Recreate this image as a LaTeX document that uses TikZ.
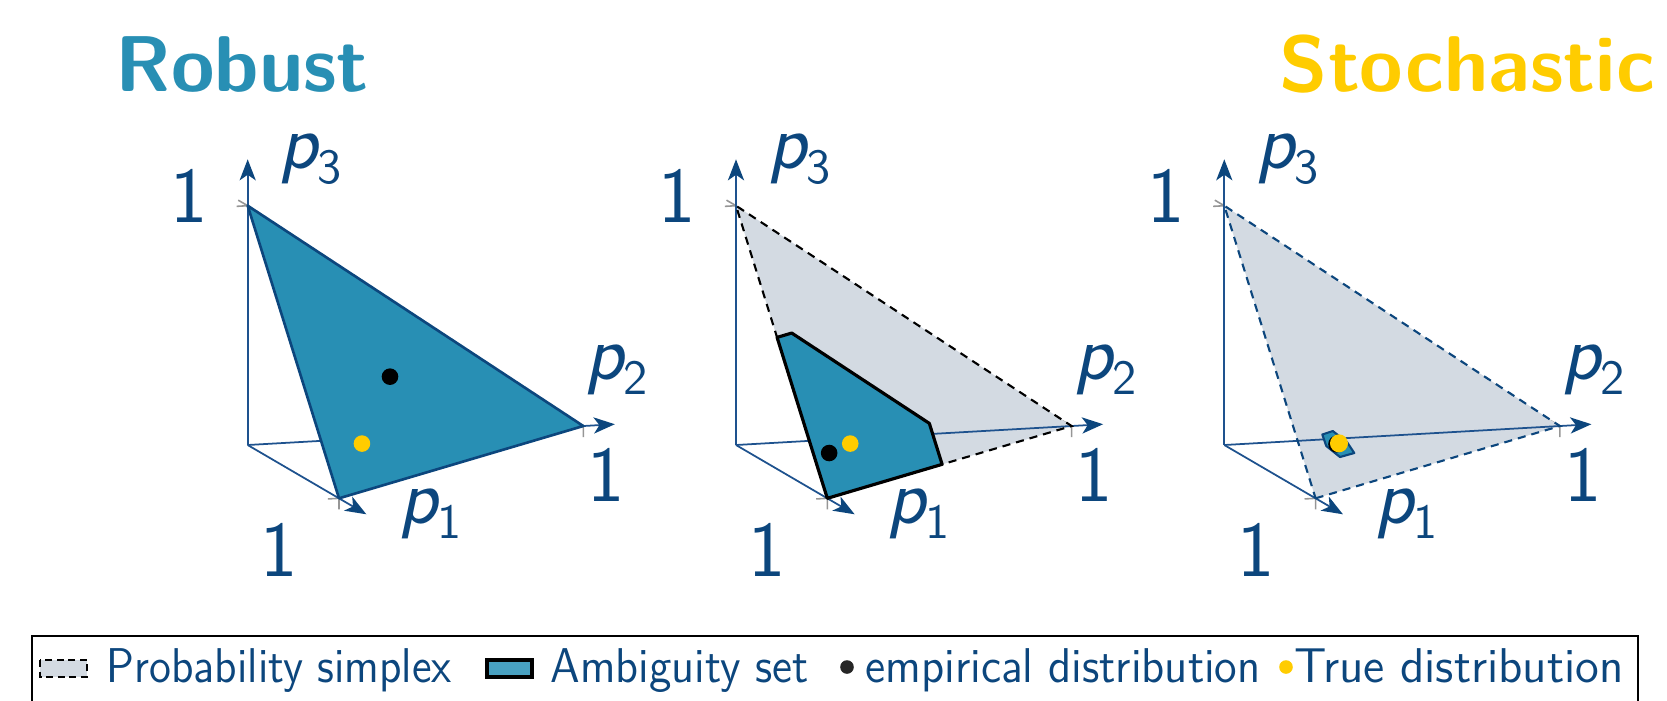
\documentclass[tikz,border=0pt]{standalone}
\usepackage{fontspec}
\usepackage{graphicx}
\usetikzlibrary{arrows.meta}
\newfontface\pobl{lmsans17-oblique.otf}
\definecolor{tblue}{RGB}{12,70,125}
\definecolor{axblue}{RGB}{30,82,142}
\definecolor{teal1}{RGB}{40,143,180}
\definecolor{legteal}{RGB}{72,160,192}
\definecolor{gold}{RGB}{255,204,0}
\definecolor{simgrey}{RGB}{211,218,226}
\definecolor{tickgrey}{RGB}{150,150,150}
\pgfdeclarelayer{ticks}
\pgfdeclarelayer{greyl}
\pgfdeclarelayer{axesl}
\pgfsetlayers{ticks,greyl,axesl,main}
\newcommand\plab[1]{{\pobl p}\raisebox{-4.3pt}{\fontsize{14pt}{15pt}\selectfont #1}}
\newcommand\legtxt[2]{\resizebox{#1}{\height}{#2}}
\tikzset{
  proj/.style={x={(0.913cm,-0.533cm)},y={(3.356cm,0.19cm)},z={(0cm,2.393cm)}},
  axisarrow/.style={draw=axblue, line width=0.5pt, -{Stealth[length=6pt,width=4.6pt,inset=1.6pt,color=tblue]}},
  tickline/.style={draw=tickgrey, line width=0.45pt},
  lab/.style={text=tblue, font=\sffamily\fontsize{22.5pt}{24pt}\selectfont, inner sep=0pt},
  tealtri/.style={fill=teal1, draw=tblue, line width=0.75pt, line join=round},
  ambig/.style={fill=teal1, draw=black, line width=0.9pt, line join=round},
  smallamb/.style={fill=teal1, draw=tblue, line width=0.6pt, line join=round},
  simplexedge/.style={dash pattern=on 2.3pt off 1.7pt, line width=0.6pt},
  title/.style={font=\sffamily\bfseries\fontsize{22.5pt}{24pt}\selectfont, inner sep=0pt},
  legtext/.style={text=tblue, font=\sffamily\fontsize{13.9pt}{15pt}\selectfont, inner sep=0pt, anchor=base west},
}
\begin{document}
\begin{tikzpicture}
\useasboundingbox (0,0) rectangle (16.67,-7);
% titles
\node[title, text=teal1, anchor=base west] (trob) at (1.15,-0.914) {Robust};
\node[title, text=gold, anchor=base west] (tsto) at (12.79,-0.914) {Stochastic};
% common axes
\foreach \n/\ox in {1/2.477,2/7.360,3/12.243}{
\begin{scope}[shift={(\ox,-4.45)},proj]
  \coordinate (O\n) at (0,0,0);
  \coordinate (A\n) at (1,0,0);
  \coordinate (B\n) at (0,1,0);
  \coordinate (C\n) at (0,0,1);
  \coordinate (TA\n) at (1.3,0,0);
  \coordinate (TB\n) at (0,1.094,0);
  \coordinate (TC\n) at (0,0,1.194);
  \begin{pgfonlayer}{ticks}
    \draw[tickline] (A\n) -- ++(0,0,-0.046) (A\n) -- ++(0,-0.033,0);
    \draw[tickline] (B\n) -- ++(0,0,-0.046) (B\n) -- ++(-0.104,0,0);
    \draw[tickline] (C\n) -- ++(-0.104,0,0) (C\n) -- ++(0,-0.033,0);
  \end{pgfonlayer}
  \begin{pgfonlayer}{axesl}
    \draw[axisarrow] (O\n) -- (TA\n);
    \draw[axisarrow] (O\n) -- (TB\n);
    \draw[axisarrow] (O\n) -- (TC\n);
  \end{pgfonlayer}
  \node[lab, anchor=base west] (lp3\n) at (0.313cm,2.77cm) {\plab{3}};
  \node[lab, anchor=base west] (lp2\n) at (3.373cm,0.653cm) {\plab{2}};
  \node[lab, anchor=base west] (lp1\n) at (1.506cm,-0.78cm) {\plab{1}};
  \node[lab, anchor=base] (one3\n) at (-0.587cm,2.23cm) {1};
  \node[lab, anchor=base] (one2\n) at (3.583cm,-0.567cm) {1};
  \node[lab, anchor=base] (one1\n) at (0.313cm,-1.317cm) {1};
\end{scope}}
% panel 1
\begin{scope}[shift={(2.477,-4.45)},proj]
  \draw[tealtri] (A1) -- (B1) -- (C1) -- cycle;
  \fill[black] (1/3,1/3,1/3) circle[radius=0.083cm];
  \fill[gold] (0.7,0.15,0.15) circle[radius=0.083cm];
\end{scope}
% panel 2
\begin{scope}[shift={(7.360,-4.45)},proj]
  \begin{pgfonlayer}{greyl}
    \fill[simgrey] (A2) -- (B2) -- (C2) -- cycle;
  \end{pgfonlayer}
  \draw[simplexedge, black] (A2) -- (B2) -- (C2) -- cycle;
  \draw[ambig] (1,0,0) -- (0.45,0,0.55) -- (0.39,0.06,0.55) -- (0.39,0.47,0.14) -- (0.53,0.47,0) -- cycle;
  \fill[black] (0.8,0.06,0.14) circle[radius=0.083cm];
  \fill[gold] (0.7,0.15,0.15) circle[radius=0.083cm];
\end{scope}
% panel 3
\begin{scope}[shift={(12.243,-4.45)},proj]
  \begin{pgfonlayer}{greyl}
    \fill[simgrey] (A3) -- (B3) -- (C3) -- cycle;
  \end{pgfonlayer}
  \draw[simplexedge, tblue] (A3) -- (B3) -- (C3) -- cycle;
  \draw[smallamb] (0.98cm,0.105cm) -- (1.085cm,0.14cm) -- (1.23cm,0.025cm) -- (1.30cm,-0.08cm) -- (1.157cm,-0.12cm) -- (1.02cm,-0.01cm) -- cycle;
  \fill[black] (1.124cm,0.01cm) circle[radius=0.085cm];
  \fill[gold] (1.147cm,0.017cm) circle[radius=0.09cm];
\end{scope}
% legend
\draw[black, line width=0.6pt] (0.32,-6.36) rectangle (16.38,-7.1);
\draw[black, fill=simgrey, dash pattern=on 2pt off 1.3pt, line width=0.8pt] (0.40,-6.60) rectangle (0.87,-6.77);
\node[legtext] (l1) at (1.06,-6.82) {\legtxt{3.45cm}{Probability simplex}};
\draw[black, fill=legteal, line width=0.9pt] (4.87,-6.60) rectangle (5.32,-6.77);
\node[legtext] (l2) at (5.50,-6.82) {\legtxt{2.58cm}{Ambiguity set}};
\fill[black!85] (8.47,-6.67) circle[radius=0.068];
\node[legtext] (l3) at (8.65,-6.82) {\legtxt{3.95cm}{empirical distribution}};
\fill[gold] (12.86,-6.67) circle[radius=0.068];
\node[legtext] (l4) at (12.94,-6.82) {\legtxt{3.29cm}{True distribution}};
\end{tikzpicture}
\end{document}
